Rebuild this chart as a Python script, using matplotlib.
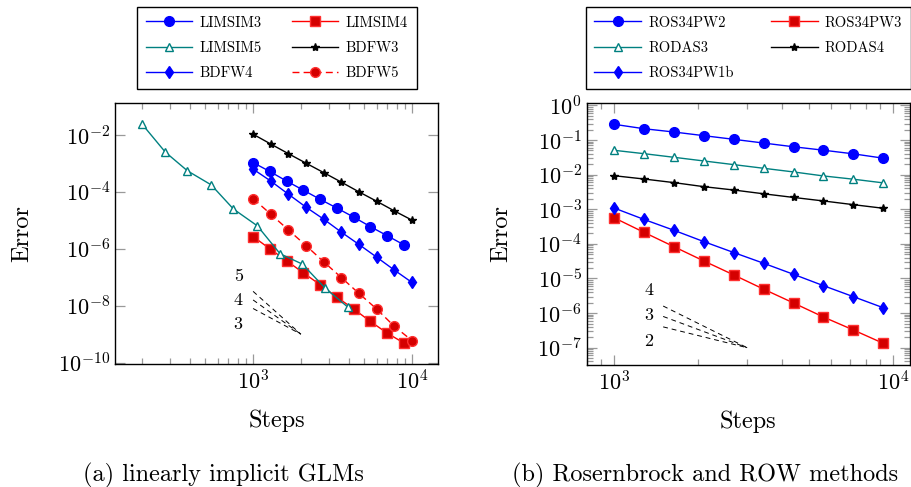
import numpy as np
import matplotlib
matplotlib.use('Agg')
import matplotlib.pyplot as plt
from matplotlib.ticker import LogLocator, FixedLocator, NullLocator, LogFormatterSciNotation

plt.rcParams['font.family'] = 'serif'
plt.rcParams['font.serif'] = ['cmr10', 'DejaVu Serif']
plt.rcParams['mathtext.fontset'] = 'cm'
plt.rcParams['axes.formatter.use_mathtext'] = True
plt.rcParams['axes.unicode_minus'] = False

# (a) linearly implicit GLMs
steps_limsim5 = [200, 280, 386, 545, 752, 1064, 1479, 2043, 2838, 3945]
err_limsim5 = [2.4e-2, 2.5e-3, 5.5e-4, 1.76e-4, 2.5e-5, 6.4e-6, 6.7e-7, 2.9e-7, 4.2e-8, 9.0e-9]
steps_limsim = [1000, 1275, 1625, 2070, 2640, 3370, 4300, 5480, 6980, 8900]
err_limsim3 = [1.07e-3, 5.2e-4, 2.4e-4, 1.15e-4, 5.5e-5, 2.7e-5, 1.3e-5, 6.0e-6, 2.9e-6, 1.38e-6]
err_limsim4 = [2.7e-6, 1.0e-6, 3.8e-7, 1.44e-7, 5.5e-8, 2.0e-8, 7.7e-9, 2.8e-9, 1.1e-9, 4.9e-10]
steps_bdfw = [1000, 1292, 1668, 2154, 2783, 3594, 4642, 5995, 7743, 10000]
err_bdfw3 = [1.06e-2, 4.8e-3, 2.2e-3, 1.02e-3, 4.75e-4, 2.2e-4, 1.0e-4, 4.7e-5, 2.15e-5, 1.02e-5]
err_bdfw4 = [6.3e-4, 2.4e-4, 8.3e-5, 2.9e-5, 1.1e-5, 3.85e-6, 1.42e-6, 5.1e-7, 1.8e-7, 6.6e-8]
err_bdfw5 = [5.8e-5, 1.65e-5, 4.6e-6, 1.3e-6, 3.5e-7, 9.8e-8, 2.7e-8, 7.7e-9, 1.9e-9, 6.0e-10]
slope_orders_a = [5, 4, 3]
slope_x_a = [1000, 2000]
slope_end_a = 1.0e-9

# (b) Rosenbrock and ROW methods
steps_row = [1000, 1280, 1640, 2100, 2690, 3440, 4400, 5630, 7210, 9220]
err_ros34pw2 = [0.286, 0.213, 0.171, 0.134, 0.105, 0.082, 0.064, 0.051, 0.040, 0.030]
err_ros34pw3 = [5.7e-4, 2.16e-4, 8.3e-5, 3.2e-5, 1.26e-5, 4.9e-6, 1.96e-6, 7.7e-7, 3.25e-7, 1.34e-7]
err_rodas3 = [0.0507, 0.0405, 0.0318, 0.0249, 0.0195, 0.0153, 0.012, 0.0092, 0.0074, 0.0058]
err_rodas4 = [9.35e-3, 7.5e-3, 5.9e-3, 4.5e-3, 3.6e-3, 2.8e-3, 2.2e-3, 1.74e-3, 1.36e-3, 1.07e-3]
err_ros34pw1b = [1.09e-3, 5.1e-4, 2.47e-4, 1.16e-4, 5.6e-5, 2.75e-5, 1.32e-5, 6.2e-6, 2.98e-6, 1.43e-6]
slope_orders_b = [4, 3, 2]
slope_x_b = [1500, 3000]
slope_end_b = 1.0e-7

teal = '#008080'
red_fill = '#d40000'

fig = plt.figure(figsize=(9.11, 4.87), dpi=100)
ax1 = fig.add_axes([0.1262, 0.2526, 0.3546, 0.536])
ax2 = fig.add_axes([0.644, 0.2505, 0.3549, 0.5386])

blue_circ = dict(color='blue', marker='o', markersize=7, lw=1, mfc='blue', mec='blue')
red_sq = dict(color='red', marker='s', markersize=7, lw=1, mfc=red_fill, mec='#ff3030')
teal_tri = dict(color=teal, marker='^', markersize=6, lw=1, mfc='white', mec=teal, mew=1)
black_star = dict(color='black', marker='*', markersize=6, lw=1, mfc='black', mec='black')
blue_dia = dict(color='blue', marker='d', markersize=6, lw=1, mfc='blue', mec='blue')
red_dash = dict(color='red', marker='o', markersize=7, lw=1, mfc=red_fill, mec='#ff3030',
                linestyle=(0, (5, 3)))

h3, = ax1.plot(steps_limsim, err_limsim3, label='LIMSIM3', **blue_circ)
h4, = ax1.plot(steps_limsim, err_limsim4, label='LIMSIM4', **red_sq)
h5, = ax1.plot(steps_limsim5, err_limsim5, label='LIMSIM5', **teal_tri)
b3, = ax1.plot(steps_bdfw, err_bdfw3, label='BDFW3', **black_star)
b4, = ax1.plot(steps_bdfw, err_bdfw4, label='BDFW4', **blue_dia)
b5, = ax1.plot(steps_bdfw, err_bdfw5, label='BDFW5', **red_dash)

for p in slope_orders_a:
    ys = [slope_end_a * (slope_x_a[1] / x) ** p for x in slope_x_a]
    ax1.plot(slope_x_a, ys, color='black', lw=0.7, linestyle=(0, (5, 4)))
for p, yl in zip(slope_orders_a, [1.05e-7, 1.5e-8, 2.2e-9]):
    ax1.text(805, yl, str(p), fontsize=13, ha='center', va='center')

r2, = ax2.plot(steps_row, err_ros34pw2, label='ROS34PW2', **blue_circ)
r3, = ax2.plot(steps_row, err_ros34pw3, label='ROS34PW3', **red_sq)
d3, = ax2.plot(steps_row, err_rodas3, label='RODAS3', **teal_tri)
d4, = ax2.plot(steps_row, err_rodas4, label='RODAS4', **black_star)
r1b, = ax2.plot(steps_row, err_ros34pw1b, label='ROS34PW1b', **blue_dia)

for p in slope_orders_b:
    ys = [slope_end_b * (slope_x_b[1] / x) ** p for x in slope_x_b]
    ax2.plot(slope_x_b, ys, color='black', lw=0.7, linestyle=(0, (5, 4)))
for p, yl in zip(slope_orders_b, [4.65e-6, 8.8e-7, 1.5e-7]):
    ax2.text(1330, yl, str(p), fontsize=13, ha='center', va='center')

for ax in (ax1, ax2):
    ax.set_xscale('log')
    ax.set_yscale('log')
    ax.tick_params(which='both', direction='in', top=True, right=True, color='0.6',
                   labelsize=16, width=0.9)
    ax.tick_params(which='major', length=7)
    ax.tick_params(which='minor', length=4.5)
    ax.xaxis.set_minor_locator(LogLocator(base=10, subs=np.arange(2, 10)))
    ax.set_xlabel('Steps', fontsize=17.5, labelpad=12)
    ax.set_ylabel('Error', fontsize=17.5, labelpad=18)
    for s in ax.spines.values():
        s.set_linewidth(1)

ax1.set_xlim(135, 14600)
ax1.set_ylim(9.0e-11, 1.33e-1)
ax1.yaxis.set_major_locator(FixedLocator([1e-10, 1e-8, 1e-6, 1e-4, 1e-2]))
ax1.yaxis.set_major_formatter(LogFormatterSciNotation())
ax1.yaxis.set_minor_locator(NullLocator())
ax1.yaxis.labelpad = 18

ax2.set_xlim(798, 11500)
ax2.set_ylim(10 ** -7.5, 10 ** 0.08)
ax2.yaxis.set_major_locator(LogLocator(base=10, numticks=20))
ax2.yaxis.set_minor_locator(LogLocator(base=10, subs=np.arange(2, 10), numticks=20))
ax2.tick_params(axis='y', which='minor', length=4)

leg_kw = dict(ncol=2, frameon=True, fancybox=False, framealpha=1, edgecolor='black',
              fontsize=10.5, handlelength=3.2, handletextpad=0.5, labelspacing=0.8,
              borderpad=0.6, borderaxespad=0, mode='expand', loc='lower left')
leg1 = ax1.legend([h3, h5, b4, h4, b3, b5], ['LIMSIM3', 'LIMSIM5', 'BDFW4', 'LIMSIM4', 'BDFW3', 'BDFW5'],
                  bbox_to_anchor=(0.068, 1.053, 0.866, 0.3), **leg_kw)
leg2 = ax2.legend([r2, d3, r1b, r3, d4], ['ROS34PW2', 'RODAS3', 'ROS34PW1b', 'ROS34PW3', 'RODAS4'],
                  bbox_to_anchor=(-0.003, 1.052, 1.006, 0.3), **leg_kw)
for leg in (leg1, leg2):
    leg.get_frame().set_linewidth(1)

fig.text(223 / 911, 1 - 475 / 487, '(a) linearly implicit GLMs', fontsize=17.5, ha='center', va='center')
fig.text(705 / 911, 1 - 475 / 487, '(b) Rosernbrock and ROW methods', fontsize=17.5, ha='center', va='center')

fig.savefig('out.png', dpi=100)
